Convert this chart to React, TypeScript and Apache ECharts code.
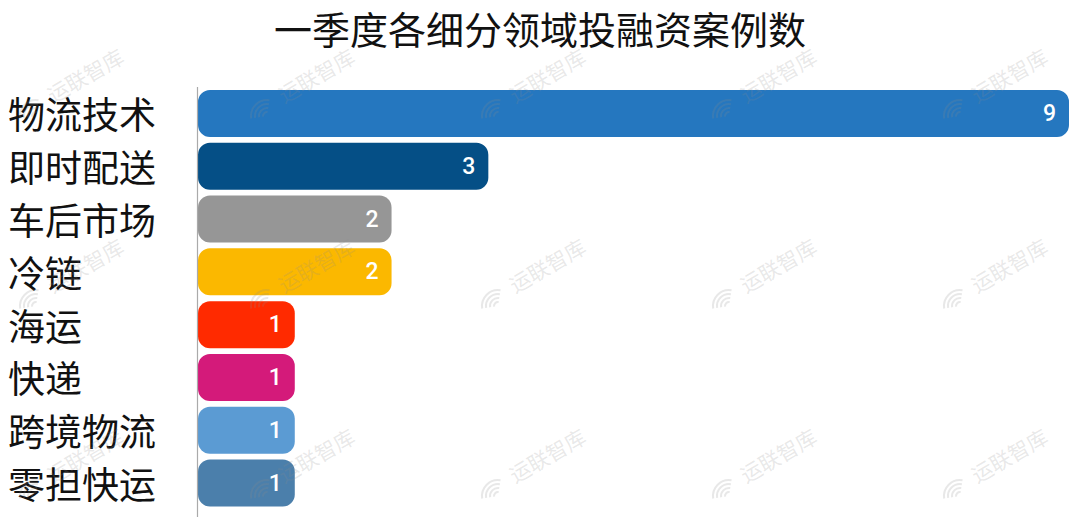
import React, { useEffect, useRef } from "react";
import * as echarts from "echarts";

const titleText = "一季度各细分领域投融资案例数";
const categories = ["物流技术", "即时配送", "车后市场", "冷链", "海运", "快递", "跨境物流", "零担快运"];
const values = [9, 3, 2, 2, 1, 1, 1, 1];
const barColors = ["#2577bf", "#054f86", "#969696", "#fbb800", "#ff2a00", "#d41a7a", "#5b9bd3", "#4b7fab"];
const watermarkText = "运联智库";
const wmCols = [28, 259, 490, 721, 952];
const wmRows = [108, 298, 488];

function buildWatermarks() {
  const els: any[] = [];
  const col = "rgba(140,140,140,0.2)";
  wmCols.forEach((x) => {
    wmRows.forEach((y) => {
      const arcs = [4, 8, 12, 16].map((r) => ({
        type: "arc",
        z: 100,
        silent: true,
        shape: { cx: x + 8, cy: y + 8, r, startAngle: Math.PI * 0.95, endAngle: Math.PI * 1.55 },
        style: { stroke: col, lineWidth: 2, fill: null },
      }));
      els.push(...arcs);
      els.push({
        type: "text",
        z: 100,
        silent: true,
        x: x + 57,
        y: y - 33,
        rotation: Math.PI / 6,
        style: {
          text: watermarkText,
          fontSize: 21,
          fontFamily: "Noto Sans CJK SC",
          fill: col,
          align: "center",
          verticalAlign: "middle",
        },
      });
    });
  });
  return els;
}

export default function App() {
  const ref = useRef<HTMLDivElement>(null);
  useEffect(() => {
    if (!ref.current) return;
    const chart = echarts.init(ref.current, undefined, { renderer: "svg" });
    chart.setOption({
      animation: false,
      backgroundColor: "#ffffff",
      title: {
        text: titleText,
        left: "center",
        top: 3,
        textStyle: {
          fontSize: 38,
          fontWeight: "normal",
          color: "#111111",
          fontFamily: "Noto Sans CJK SC",
        },
      },
      grid: { left: 198, right: 11, top: 87, height: 422.5, containLabel: false },
      xAxis: {
        type: "value",
        min: 0,
        max: 9,
        show: false,
      },
      yAxis: {
        type: "category",
        data: categories,
        inverse: true,
        axisLine: { show: false },
        axisTick: { show: false },
        axisLabel: {
          align: "left",
          margin: 190,
          fontSize: 37,
          color: "#111111",
          fontFamily: "Noto Sans CJK SC",
        },
      },
      series: [
        {
          type: "bar",
          barWidth: 47,
          data: values.map((v, i) => ({
            value: v,
            itemStyle: { color: barColors[i], borderRadius: 12 },
          })),
          label: {
            show: true,
            position: "insideRight",
            distance: 13,
            color: "#ffffff",
            fontSize: 23,
            fontWeight: 500,
            fontFamily: "Roboto, Liberation Sans, Arial, sans-serif",
          },
        },
      ],
      graphic: [
        {
          type: "line",
          z: 50,
          silent: true,
          shape: { x1: 197.5, y1: 87, x2: 197.5, y2: 517 },
          style: { stroke: "#aaaaaa", lineWidth: 1.2 },
        },
        ...buildWatermarks(),
      ],
    });
    return () => chart.dispose();
  }, []);
  return (
    <div
      ref={ref}
      style={{ position: "fixed", left: 0, top: 0, width: 1080, height: 517 }}
    />
  );
}
